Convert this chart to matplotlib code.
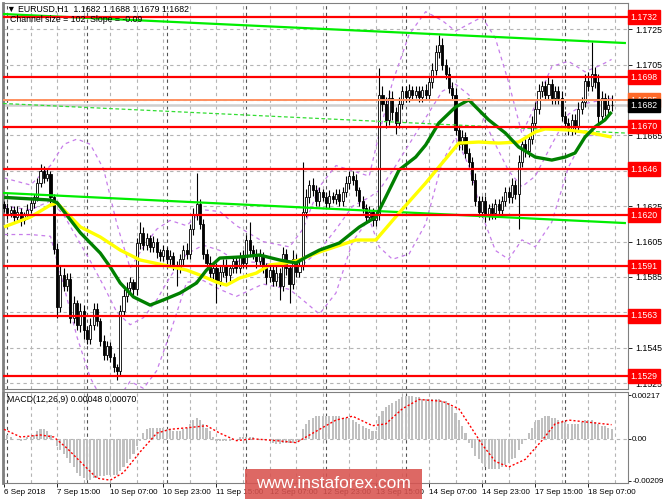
import matplotlib
matplotlib.use("Agg")
import matplotlib.pyplot as plt
from matplotlib.transforms import blended_transform_factory
import numpy as np

W, H = 665, 499

# ---- hourly candles, 6 Sep 23:00 .. 18 Sep 14:00 (EURUSD H1) ----
first_open = 1.1626
close = [
    1.1624, 1.1621, 1.1623, 1.1619, 1.1622, 1.1617, 1.1620, 1.1623, 1.1627, 1.1630,
    1.1638, 1.1645, 1.1641, 1.1643, 1.1630, 1.1601, 1.1568, 1.1586, 1.1580, 1.1584,
    1.1562, 1.1570, 1.1558, 1.1566, 1.1555, 1.1550, 1.1558, 1.1567, 1.1560, 1.1549,
    1.1541, 1.1546, 1.1540, 1.1534, 1.1532, 1.1566, 1.1574, 1.1579, 1.1582, 1.1578,
    1.1604, 1.1610, 1.1603, 1.1607, 1.1602, 1.1605, 1.1599, 1.1597, 1.1600, 1.1595,
    1.1597, 1.1592, 1.1590, 1.1595, 1.1600, 1.1598, 1.1612, 1.1620, 1.1626, 1.1615,
    1.1598, 1.1593, 1.1587, 1.1590, 1.1583, 1.1588, 1.1592, 1.1586, 1.1590, 1.1594,
    1.1590, 1.1597, 1.1593, 1.1606, 1.1600, 1.1598, 1.1594, 1.1597, 1.1590, 1.1585,
    1.1589, 1.1583, 1.1587, 1.1580, 1.1598, 1.1590, 1.1581, 1.1595, 1.1588, 1.1592,
    1.1622, 1.1630, 1.1637, 1.1634, 1.1628, 1.1633, 1.1630, 1.1627, 1.1631, 1.1629,
    1.1632, 1.1628, 1.1633, 1.1638, 1.1642, 1.1640, 1.1634, 1.1628, 1.1624, 1.1619,
    1.1622, 1.1617, 1.1620, 1.1688, 1.1683, 1.1674, 1.1686, 1.1678, 1.1672, 1.1683,
    1.1690, 1.1687, 1.1691, 1.1688, 1.1690, 1.1687, 1.1691, 1.1688, 1.1695, 1.1702,
    1.1712, 1.1716, 1.1705, 1.1700, 1.1692, 1.1688, 1.1668, 1.1660, 1.1664, 1.1655,
    1.1650, 1.1640, 1.1628, 1.1622, 1.1628, 1.1620, 1.1624, 1.1621, 1.1626, 1.1623,
    1.1628, 1.1633, 1.1630, 1.1637, 1.1632, 1.1650, 1.1660, 1.1656, 1.1663, 1.1672,
    1.1680, 1.1690, 1.1693, 1.1688, 1.1694, 1.1686, 1.1690, 1.1686, 1.1676, 1.1672,
    1.1668, 1.1674, 1.1670, 1.1680, 1.1684, 1.1696, 1.1693, 1.1700, 1.1695, 1.1676,
    1.1686, 1.1680, 1.1682, 1.1682,
]
# wick lengths above / below the body, in pips
hi_wick = [
    2, 3, 2, 2, 3, 2, 2, 3, 3, 2,  3, 4, 3, 3, 2, 2, 3, 6, 4, 3,
    3, 4, 2, 4, 3, 2, 4, 3, 3, 2,  3, 3, 2, 2, 2, 3, 4, 3, 3, 2,
    3, 6, 3, 3, 2, 3, 2, 2, 3, 2,  3, 2, 2, 3, 3, 4, 3, 4, 18, 3,
    3, 3, 4, 3, 3, 4, 3, 3, 2, 3,  3, 2, 3, 3, 10, 3, 3, 4, 2, 3,
    3, 2, 4, 3, 4, 3, 2, 5, 3, 4,  28, 5, 3, 4, 3, 3, 2, 3, 3, 2,
    3, 3, 3, 4, 3, 3, 3, 2, 3, 2,  3, 2, 3, 15, 5, 4, 5, 4, 3, 4,
    3, 3, 3, 2, 3, 3, 2, 3, 3, 4,  4, 6, 4, 3, 4, 3, 4, 3, 4, 3,
    3, 3, 4, 3, 3, 3, 2, 3, 3, 3,  3, 3, 3, 4, 3, 4, 3, 4, 3, 4,
    4, 4, 3, 3, 4, 3, 3, 3, 4, 3,  3, 3, 3, 4, 3, 4, 5, 18, 4, 5,
    4, 3, 6, 6,
]
lo_wick = [
    2, 3, 2, 3, 2, 3, 2, 2, 2, 3,  2, 2, 3, 2, 3, 3, 6, 3, 3, 3,
    3, 3, 3, 4, 5, 3, 3, 3, 3, 3,  3, 3, 3, 3, 5, 3, 3, 3, 3, 3,
    3, 3, 3, 3, 3, 3, 3, 3, 3, 3,  3, 3, 10, 3, 3, 3, 3, 3, 3, 3,
    3, 4, 3, 3, 13, 3, 3, 4, 3, 3,  3, 3, 3, 3, 3, 3, 4, 3, 3, 4,
    3, 3, 3, 8, 3, 4, 11, 3, 3, 3,  3, 3, 3, 3, 3, 3, 2, 3, 3, 2,
    3, 3, 3, 3, 3, 3, 3, 3, 3, 3,  3, 3, 3, 3, 4, 5, 3, 4, 6, 3,
    3, 3, 3, 3, 2, 3, 3, 3, 3, 3,  3, 3, 3, 3, 3, 3, 3, 3, 3, 3,
    3, 3, 3, 3, 3, 4, 3, 3, 3, 3,  3, 3, 3, 3, 3, 20, 3, 3, 3, 3,
    3, 3, 3, 3, 3, 3, 3, 3, 3, 3,  3, 3, 4, 3, 3, 3, 3, 3, 3, 5,
    3, 4, 3, 3,
]

# ---- moving averages (bar index, price) ----
ma_green_bar = [0, 14, 16, 23, 29, 32, 35, 39, 44, 48, 53, 58, 61, 65, 71, 77, 83, 88, 91, 95,
                101, 107, 112, 115, 119, 124, 127, 131, 136, 140, 146, 151, 155, 160, 165, 169,
                172, 175, 178, 181, 183]
ma_green = [1.1630, 1.16285, 1.1627, 1.1610, 1.15985, 1.15906, 1.15816, 1.15737, 1.15691, 1.1572,
            1.15759, 1.15816, 1.15889, 1.15957, 1.15963, 1.15974, 1.15946, 1.15929, 1.15963, 1.16002,
            1.16042, 1.16132, 1.16189, 1.16302, 1.16455, 1.16528, 1.16596, 1.16721, 1.16811, 1.16851,
            1.16738, 1.16664, 1.16585, 1.16528, 1.16511, 1.16528, 1.16551, 1.16641, 1.16698, 1.16738,
            1.16783]
ma_yellow_bar = [0, 8, 14, 16, 23, 29, 35, 41, 48, 55, 59, 64, 67, 71, 76, 80, 85, 89, 95, 106,
                 112, 119, 127, 131, 137, 143, 149, 155, 160, 163, 170, 177, 183]
ma_yellow = [1.16133, 1.16189, 1.16257, 1.16268, 1.16133, 1.16076, 1.16002, 1.15946, 1.15918, 1.15889,
             1.15861, 1.15821, 1.15804, 1.15844, 1.15872, 1.15918, 1.15929, 1.15946, 1.15991, 1.16059,
             1.16059, 1.16212, 1.16381, 1.16472, 1.16607, 1.16613, 1.16607, 1.16613, 1.1667, 1.16687,
             1.16681, 1.16664, 1.16641]

# ---- Bollinger bands (bar index, upper / middle / lower) ----
bb_bar = [0, 8, 14, 18, 22, 26, 30, 34, 38, 42, 46, 50, 55, 60, 65, 70, 78, 86, 90, 95,
          100, 105, 110, 113, 117, 122, 127, 132, 136, 140, 144, 148, 152, 156, 160, 165, 170, 175,
          180, 183]
bb_mid = [1.1625, 1.1623, 1.1628, 1.1620, 1.1607, 1.1594, 1.1580, 1.1565, 1.1558, 1.1562,
          1.1572, 1.1585, 1.1598, 1.1603, 1.1600, 1.1594, 1.1593, 1.1590, 1.1592, 1.1600,
          1.1612, 1.1625, 1.1630, 1.1634, 1.1645, 1.1660, 1.1675, 1.1690, 1.1694, 1.1688,
          1.1676, 1.1660, 1.1645, 1.1636, 1.1642, 1.1660, 1.1677, 1.1683, 1.1685, 1.1686]
bb_up = [1.1641, 1.1637, 1.1648, 1.1660, 1.1663, 1.1660, 1.1646, 1.1615, 1.1590, 1.1602,
         1.1612, 1.1617, 1.1614, 1.1623, 1.1622, 1.1614, 1.1605, 1.1602, 1.1612, 1.1636,
         1.1648, 1.1645, 1.1642, 1.1666, 1.1695, 1.1722, 1.1735, 1.1730, 1.1724, 1.1728,
         1.1732, 1.1720, 1.1695, 1.1666, 1.1682, 1.1704, 1.1707, 1.1701, 1.1705, 1.1708]
bb_low = [1.1609, 1.1609, 1.1608, 1.1580, 1.1551, 1.1528, 1.1514, 1.1515, 1.1526, 1.1522,
          1.1532, 1.1553, 1.1582, 1.1583, 1.1578, 1.1574, 1.1581, 1.1578, 1.1572, 1.1564,
          1.1576, 1.1605, 1.1618, 1.1602, 1.1595, 1.1598, 1.1615, 1.1650, 1.1664, 1.1648,
          1.1620, 1.1600, 1.1595, 1.1606, 1.1602, 1.1616, 1.1647, 1.1665, 1.1665, 1.1664]

# ---- regression channel ----
chan_bar = [-0.3, 187.0]
chan_upper = [1.17337, 1.17173]
chan_mid = [1.16831, 1.16664]
chan_lower = [1.16325, 1.16155]

# ---- horizontal levels ----
levels = [1.1732, 1.1698, 1.1670, 1.1646, 1.1620, 1.1591, 1.1563, 1.1529]
level_orange = 1.1685
bid = 1.1682
price_ticks = [1.1525, 1.1545, 1.1585, 1.1605, 1.1625, 1.1665, 1.1705, 1.1725]
grid_prices = [1.1525, 1.1545, 1.1565, 1.1585, 1.1605, 1.1625, 1.1645, 1.1665, 1.1685, 1.1705, 1.1725]

# ---- MACD(12,26,9), in 1e-5 ----
macd_hist = [
    28, 19, 9, 0, 0, -9, 0, 9, 9, 19,  37, 47, 47, 37, 19, 0, -37, -56, -74, -93,
    -121, -140, -167, -186, -195, -205, -205, -195, -195, -186,
    -186, -177, -177, -177, -177, -158, -140, -121, -102, -74,
    -37, -9, 28, 47, 56, 56, 56, 56, 56, 47,  47, 37, 37, 37, 47, 56, 74, 93, 102, 93,
    74, 56, 37, 9, -9, -9, -9, -9, -9, 0,  0, 9, 9, 9, 9, 9, 0, 0, 0, 0,
    -9, -19, -28, -28, -19, -19, -19, -19, -9, -9,
    47, 74, 93, 102, 112, 112, 112, 112, 112, 112,
    112, 112, 102, 102, 102, 93, 84, 74, 65, 56,
    47, 37, 37, 112, 140, 158, 167, 177, 186, 195,
    205, 214, 214, 214, 205, 205, 195, 195, 195, 195,
    195, 195, 186, 186, 177, 158, 130, 93, 65, 28,
    -19, -47, -84, -102, -121, -140, -149, -149, -149, -149,
    -140, -130, -121, -102, -93, -56, -28, 0, 28, 56,
    84, 93, 102, 112, 112, 102, 102, 93, 84, 84,
    74, 74, 74, 74, 84, 93, 93, 93, 84, 74,  65, 65, 56, 48,
]
signal_bar = [0, 5, 11, 15, 19, 24, 28, 32, 36, 41, 46, 50, 56, 61, 65, 70, 75, 82, 88, 93,
              100, 105, 111, 115, 120, 125, 132, 137, 140, 144, 148, 152, 157, 162, 166, 170, 175, 183]
signal = [47, 9, 19, 9, -47, -130, -195, -205, -167, -65, 28, 47, 56, 65, 28, -9, 0, -9, -19, 28,
          93, 112, 65, 74, 149, 195, 186, 149, 74, -28, -112, -140, -102, -9, 74, 93, 84, 70]

date_labels = ["6 Sep 2018", "7 Sep 15:00", "10 Sep 07:00", "10 Sep 23:00", "11 Sep 15:00",
               "12 Sep 07:00", "12 Sep 23:00", "13 Sep 15:00", "14 Sep 07:00", "14 Sep 23:00",
               "17 Sep 15:00", "18 Sep 07:00"]
date_bars = [0, 16, 32, 48, 64, 80, 96, 112, 128, 144, 160, 176]
day_start_bars = [1, 25, 49, 73, 97, 121, 145, 169]

plt.rcParams['font.family'] = ['Liberation Sans', 'DejaVu Sans']
FS = 6.3

fig = plt.figure(figsize=(W / 100, H / 100), dpi=100)
fig.patch.set_facecolor('white')


def px_axes(x0, y0, x1, y1):
    return fig.add_axes([x0 / W, 1 - y1 / H, (x1 - x0) / W, (y1 - y0) / H])


def draw_vgrid(a):
    for b in range(0, 190, 8):
        a.axvline(b, color='#b4b4b4', lw=0.8, ls=(0, (3, 3)), zorder=0)
    for b in day_start_bars:
        a.axvline(b, color='#505050', lw=0.8, ls=(0, (3, 3)), zorder=0)


def frame(a):
    for s in a.spines.values():
        s.set_color('#808080')
        s.set_linewidth(0.8)
    a.spines['left'].set_linewidth(2)


X0, X1 = 3, 628
BAR_X0, BAR_DX = 4.0, 3.32
xlim = ((X0 - BAR_X0) / BAR_DX, (X1 - BAR_X0) / BAR_DX)

# ================= price panel =================
ax = px_axes(X0, 3, X1, 389)
ax.set_xlim(*xlim)
ax.set_ylim(1.1732 - (389 - 17) / 17685, 1.1732 + (17 - 3) / 17685)

draw_vgrid(ax)
for p in grid_prices:
    ax.axhline(p, color='#b4b4b4', lw=0.8, ls=(0, (3, 3)), zorder=0)

for band in (bb_up, bb_mid, bb_low):
    ax.plot(bb_bar, band, color='#c77dea', lw=0.9, ls=(0, (3, 3)), zorder=1)

opens = [first_open] + close[:-1]
idx = np.arange(len(close))
o = np.array(opens)
c = np.array(close)
hi = np.maximum(o, c) + np.array(hi_wick) * 0.0001
lo = np.minimum(o, c) - np.array(lo_wick) * 0.0001
ax.vlines(idx, lo, hi, color='black', lw=0.8, zorder=3)
bull = c >= o
body = np.maximum(np.abs(c - o), 0.00005)
ax.bar(idx[bull], body[bull], bottom=np.minimum(o, c)[bull], width=0.62,
       color='white', edgecolor='black', linewidth=0.6, zorder=4)
ax.bar(idx[~bull], body[~bull], bottom=np.minimum(o, c)[~bull], width=0.62,
       color='black', edgecolor='black', linewidth=0.6, zorder=4)

ax.plot(chan_bar, chan_upper, color='#00ee00', lw=1.6, zorder=5)
ax.plot(chan_bar, chan_lower, color='#00ee00', lw=1.6, zorder=5)
ax.plot(chan_bar, chan_mid, color='#33dd33', lw=0.9, ls=(0, (3, 2)), zorder=5)

ax.plot(ma_yellow_bar, ma_yellow, color='#ffff00', lw=2.4, zorder=6, solid_capstyle='butt')
ax.plot(ma_green_bar, ma_green, color='#008000', lw=2.4, zorder=6, solid_capstyle='butt')

for lv in levels:
    ax.axhline(lv, color='#ff0000', lw=1.6, zorder=7)
ax.axhline(level_orange, color='#ff9060', lw=1.4, zorder=7)
ax.axhline(bid, color='#cfcfcf', lw=1.8, zorder=2)

ax.yaxis.tick_right()
ax.set_yticks(price_ticks)
ax.set_yticklabels(['%.4f' % p for p in price_ticks])
ax.tick_params(axis='y', labelsize=FS, length=3, width=0.6, pad=2, colors='black')
ax.set_xticks([])
frame(ax)

tr = blended_transform_factory(ax.transAxes, ax.transData)
for lv in levels:
    ax.text(1.004, lv, '%.4f' % lv, transform=tr, color='white', fontsize=FS, va='center', ha='left',
            clip_on=False, zorder=10,
            bbox=dict(boxstyle='square,pad=0.25', fc='#ff0000', ec='#ff0000'))
ax.text(1.004, level_orange, '%.4f' % level_orange, transform=tr, color='white', fontsize=FS,
        va='center', ha='left', clip_on=False, zorder=10,
        bbox=dict(boxstyle='square,pad=0.25', fc='#ff6a2a', ec='#ff6a2a'))
ax.text(1.004, bid, '%.4f' % bid, transform=tr, color='white', fontsize=FS, va='center', ha='left',
        clip_on=False, zorder=11, bbox=dict(boxstyle='square,pad=0.25', fc='black', ec='black'))

ax.text(0.006, 1 - 6.5 / 386, '\u25bc EURUSD,H1  1.1682 1.1688 1.1679 1.1682',
        transform=ax.transAxes, fontsize=FS, va='center', ha='left', zorder=12)
ax.text(0.012, 1 - 17 / 386, 'Channel size = 102  Slope = -0.09',
        transform=ax.transAxes, fontsize=FS, va='center', ha='left', zorder=12)

# ================= MACD panel =================
am = px_axes(X0, 392, X1, 483)
am.set_xlim(*xlim)
am.set_ylim(-0.00219, 0.00232)
draw_vgrid(am)
am.axhline(0, color='#b4b4b4', lw=0.8, ls=(0, (3, 3)), zorder=0)

hist = np.array(macd_hist) * 1e-5
am.bar(np.arange(len(hist)), hist, width=0.62, color='#c0c0c0', zorder=2)
am.plot(signal_bar, np.array(signal) * 1e-5, color='#ff0000', lw=1.0, ls=(0, (1.5, 1.5)), zorder=3)

am.yaxis.tick_right()
am.set_yticks([0.00217, 0.0, -0.00209])
am.set_yticklabels(['0.00217', '0.00', '-0.00209'])
am.tick_params(axis='y', labelsize=5.8, length=2, width=0.6, pad=1)
am.set_xticks(date_bars)
am.set_xticklabels(date_labels, ha='left')
am.tick_params(axis='x', labelsize=5.8, length=3, width=0.6, pad=1.5)
frame(am)
am.text(0.006, 1 - 8 / 91, 'MACD(12,26,9) 0.00048 0.00070', transform=am.transAxes,
        fontsize=FS, va='center', ha='left', zorder=5)

# watermark
fig.patches.append(plt.Rectangle((245 / W, 0), (422 - 245) / W, (499 - 469) / H,
                                 transform=fig.transFigure, fc='#d9534f', ec='none',
                                 alpha=0.88, zorder=20))
fig.text(333 / W, 1 - 484 / H, 'www.instaforex.com', color='white', fontsize=12.5,
         ha='center', va='center', zorder=21)

fig.savefig('out.png', dpi=100)
